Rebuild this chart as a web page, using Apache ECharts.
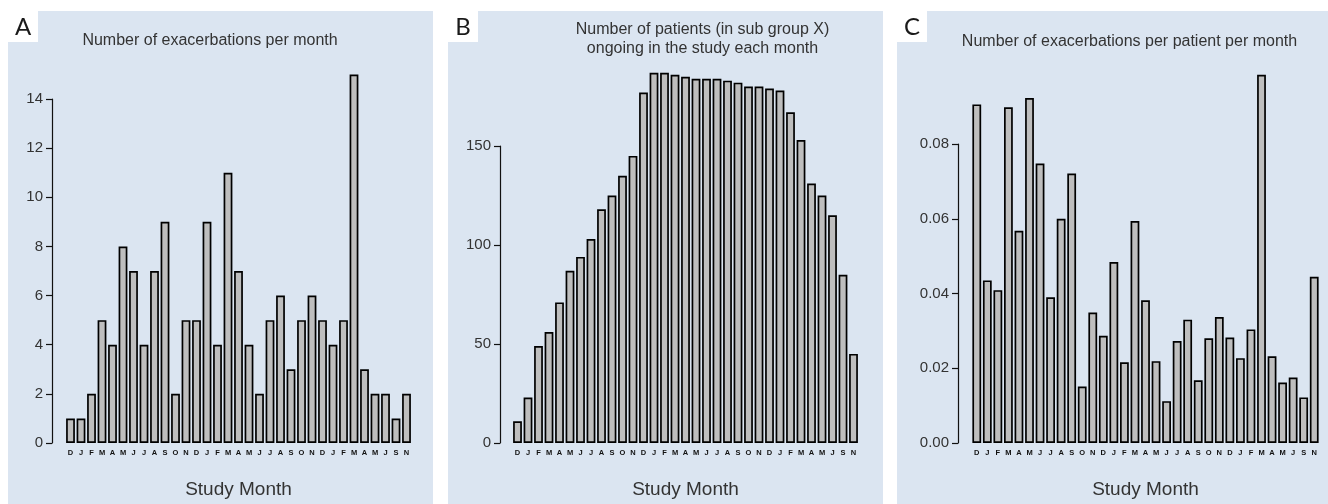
<!DOCTYPE html>
<html>
<head>
<meta charset="utf-8">
<script src="https://cdn.jsdelivr.net/npm/echarts@6/dist/echarts.min.js"></script>
<style>
html,body{margin:0;padding:0;background:#fff;}
#chart{width:1328px;height:504px;}
</style>
</head>
<body>
<div id="chart"></div>
<script>
// ---- data ----
const months = ['D','J','F','M','A','M','J','J','A','S','O','N','D','J','F','M','A','M','J','J','A','S','O','N','D','J','F','M','A','M','J','S','N'];
const exacerbationsPerMonth = [1,1,2,5,4,8,7,4,7,9,2,5,5,9,4,11,7,4,2,5,6,3,5,6,5,4,5,15,3,2,2,1,2];
const patientsPerMonth = [11,23,49,56,71,87,94,103,118,125,135,145,177,187,187,186,185,184,184,184,183,182,180,180,179,178,167,153,131,125,115,85,45];
const exacerbationsPerPatient = [0.0906,0.0435,0.0409,0.0898,0.0568,0.0923,0.0748,0.039,0.060,0.0721,0.0151,0.0349,0.0287,0.0484,0.0216,0.0594,0.0382,0.0219,0.0112,0.0273,0.033,0.0168,0.028,0.0337,0.0282,0.0227,0.0304,0.0985,0.0232,0.0162,0.0175,0.0122,0.0445];
const panelLetters = ['A','B','C'];
const titleA = 'Number of exacerbations per month';
const titleB = ['Number of patients (in sub group X)','ongoing in the study each month'];
const titleC = 'Number of exacerbations per patient per month';
const xName = 'Study Month';
const yTicksA = {min:0,max:14,interval:2};
const yTicksB = {min:0,max:150,interval:50};
const yTicksC = {min:0,max:0.08,interval:0.02};

// ---- layout ----
const FONT = '"Liberation Sans", Arial, sans-serif';
const BG = '#dbe5f1';
const panels = [
  {x:8, w:425},
  {x:448, w:435},
  {x:897, w:431}
];
const grids = [
  {left:65.25, top:99, width:346.5, height:355, axisOffset:13.25},
  {left:512.25, top:146, width:346.5, height:309, axisOffset:12.25},
  {left:971.5, top:144, width:348, height:310.7, axisOffset:13.5}
];
const ticks = [yTicksA, yTicksB, yTicksC];
const seriesData = [exacerbationsPerMonth, patientsPerMonth, exacerbationsPerPatient];

const chart = echarts.init(document.getElementById('chart'), null, {renderer:'canvas'});

const graphic = [];
panels.forEach((p, i) => {
  graphic.push({type:'rect', z:-10, silent:true, shape:{x:p.x, y:11, width:p.w, height:493}, style:{fill:BG}});
  graphic.push({type:'rect', z:-9, silent:true, shape:{x:p.x, y:11, width:30, height:31}, style:{fill:'#fff'}});
  graphic.push({type:'text', z:5, silent:true, style:{text:panelLetters[i], x:p.x+15, y:27, textAlign:'center', textVerticalAlign:'middle', font:'24px Lato, "Open Sans", sans-serif', fill:'#1a1a1a'}});
});
const TF = '16px ' + FONT;
graphic.push({type:'text', style:{text:titleA, x:210, y:41, textAlign:'center', textVerticalAlign:'middle', font:TF, fill:'#333'}});
graphic.push({type:'text', style:{text:titleB[0], x:702.5, y:30, textAlign:'center', textVerticalAlign:'middle', font:TF, fill:'#333'}});
graphic.push({type:'text', style:{text:titleB[1], x:702.5, y:49, textAlign:'center', textVerticalAlign:'middle', font:TF, fill:'#333'}});
graphic.push({type:'text', style:{text:titleC, x:1129.5, y:42, textAlign:'center', textVerticalAlign:'middle', font:TF, fill:'#333'}});

const option = {
  animation:false,
  backgroundColor:'#fff',
  graphic: graphic,
  grid: grids.map(g => ({left:g.left, top:g.top, width:g.width, height:g.height, containLabel:false})),
  xAxis: grids.map((g, i) => ({
    type:'category', gridIndex:i, data:months,
    axisLine:{show:false}, axisTick:{show:false},
    axisLabel:{interval:0, fontSize:7.5, fontWeight:'bold', color:'#111', margin:6, fontFamily:FONT},
    name:xName, nameLocation:'middle', nameGap:37,
    nameTextStyle:{fontSize:19, color:'#333', fontFamily:FONT}
  })),
  yAxis: grids.map((g, i) => ({
    type:'value', gridIndex:i,
    min:ticks[i].min, max:ticks[i].max, interval:ticks[i].interval,
    offset:g.axisOffset,
    splitLine:{show:false},
    axisLine:{show:true, lineStyle:{color:'#111', width:1.2}},
    axisTick:{show:true, length:6, lineStyle:{color:'#111', width:1.2}},
    axisLabel:{fontSize:15, color:'#333', margin:9, fontFamily:FONT,
      formatter: i === 2 ? (v => v.toFixed(2)) : (v => String(v))}
  })),
  series: seriesData.map((d, i) => ({
    type:'bar', xAxisIndex:i, yAxisIndex:i, data:d, clip:false,
    barWidth:8.8,
    itemStyle:{color:'#bebebe', borderColor:'#000', borderWidth:1.7},
    silent:true
  }))
};
chart.setOption(option);
</script>
</body>
</html>
